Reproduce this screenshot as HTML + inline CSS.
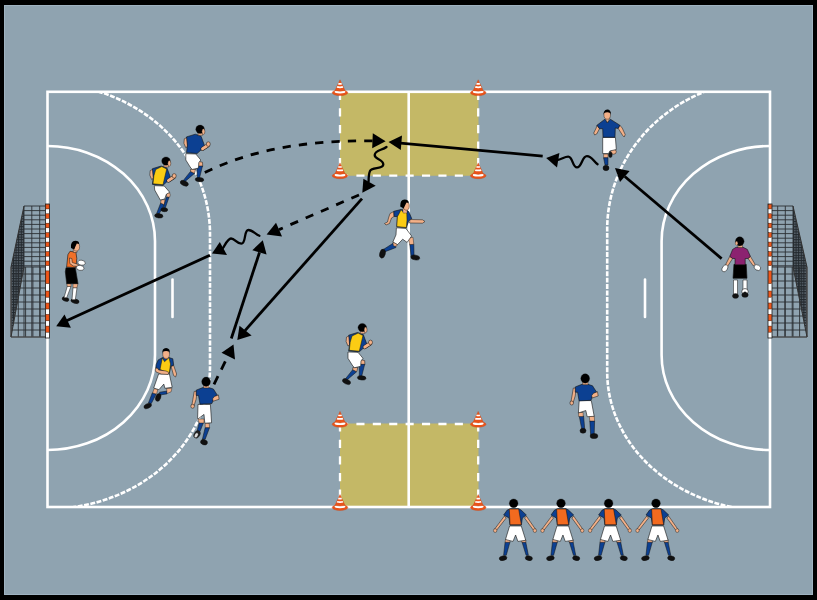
<!DOCTYPE html>
<html><head><meta charset="utf-8"><style>
html,body{margin:0;padding:0;background:#000;overflow:hidden}
svg{display:block}
</style></head><body>
<svg width="817" height="600" viewBox="0 0 817 600">
<rect x="0" y="0" width="817" height="600" fill="#000"/>
<rect x="4" y="5" width="809" height="590" fill="#8fa3b0"/>
<rect x="4.5" y="5.5" width="808" height="589" fill="none" stroke="#9fb3c1" stroke-width="1"/>
<path d="M340,91.8 H478.5 V167.7 Q478.5,175.7 470.5,175.7 H348 Q340,175.7 340,167.7 Z" fill="#c4b866"/>
<path d="M340,507 H478.5 V431.6 Q478.5,423.6 470.5,423.6 H348 Q340,423.6 340,431.6 Z" fill="#c4b866"/>
<g fill="none" stroke="#ffffff" stroke-width="2.6">
<rect x="47.5" y="91.8" width="722.5" height="415.2"/>
<line x1="408.7" y1="91.8" x2="408.7" y2="507"/>
<path d="M47.5,146 A107.5,95 0 0 1 155,241 V355 A107.5,95 0 0 1 47.5,450"/>
<path d="M770,146 A108.4,95 0 0 0 661.6,241 V355 A108.4,95 0 0 0 770,450"/>
<line x1="172.5" y1="279.5" x2="172.5" y2="317" stroke-linecap="round"/>
<line x1="645" y1="279.5" x2="645" y2="317" stroke-linecap="round"/>
</g>
<clipPath id="fc"><rect x="47.5" y="92.5" width="722.5" height="414"/></clipPath>
<g fill="none" stroke="#ffffff" stroke-width="2.6" stroke-dasharray="4.9 1.5" clip-path="url(#fc)">
<path d="M47.5,84 A162.5,150 0 0 1 210,234 V367 A162.5,142 0 0 1 47.5,509"/>
<path d="M770,79 A162.8,150 0 0 0 607.2,229 V372 A162.8,139 0 0 0 770,511"/>
</g>
<g fill="none" stroke="#ffffff" stroke-width="2.3">
<path d="M340,91.7 V175.7 M478.2,91.7 V175.7" stroke-dasharray="8.3 8.3"/>
<path d="M340,175.7 H478.2 M340,424 H478.2" stroke-dasharray="8.1 8.3"/>
<path d="M340,423.1 V507 M478.2,423.1 V507" stroke-dasharray="8.3 8.3"/>
</g>
<defs><pattern id="mesh" width="2.6" height="2.6" patternUnits="userSpaceOnUse"><path d="M0,0.5 H2.6 M0.5,0 V2.6" stroke="#22282d" stroke-width="1"/></pattern></defs>
<polygon points="24,206 11,267 11,337 24,267" fill="#59646d"/>
<polygon points="24,206 11,267 11,337 24,267" fill="url(#mesh)"/>
<g stroke="#2b2f33" stroke-width="0.9" fill="none">
<line x1="24" y1="206.0" x2="47.5" y2="206.0"/>
<line x1="24" y1="210.6" x2="47.5" y2="210.6"/>
<line x1="24" y1="215.2" x2="47.5" y2="215.2"/>
<line x1="24" y1="219.8" x2="47.5" y2="219.8"/>
<line x1="24" y1="224.4" x2="47.5" y2="224.4"/>
<line x1="24" y1="229.0" x2="47.5" y2="229.0"/>
<line x1="24" y1="233.6" x2="47.5" y2="233.6"/>
<line x1="24" y1="238.2" x2="47.5" y2="238.2"/>
<line x1="24" y1="242.8" x2="47.5" y2="242.8"/>
<line x1="24" y1="247.4" x2="47.5" y2="247.4"/>
<line x1="24" y1="252.0" x2="47.5" y2="252.0"/>
<line x1="24" y1="256.6" x2="47.5" y2="256.6"/>
<line x1="24" y1="261.2" x2="47.5" y2="261.2"/>
<line x1="24" y1="265.8" x2="47.5" y2="265.8"/>
<line x1="24.0" y1="206" x2="24.0" y2="337"/>
<line x1="31.8" y1="206" x2="31.8" y2="337"/>
<line x1="39.7" y1="206" x2="39.7" y2="337"/>
<line x1="47.5" y1="206" x2="47.5" y2="337"/>
<line x1="11" y1="267.0" x2="47.5" y2="267.0"/>
<line x1="11" y1="274.0" x2="47.5" y2="274.0"/>
<line x1="11" y1="281.0" x2="47.5" y2="281.0"/>
<line x1="11" y1="288.0" x2="47.5" y2="288.0"/>
<line x1="11" y1="295.0" x2="47.5" y2="295.0"/>
<line x1="11" y1="302.0" x2="47.5" y2="302.0"/>
<line x1="11" y1="309.0" x2="47.5" y2="309.0"/>
<line x1="11" y1="316.0" x2="47.5" y2="316.0"/>
<line x1="11" y1="323.0" x2="47.5" y2="323.0"/>
<line x1="11" y1="330.0" x2="47.5" y2="330.0"/>
<line x1="11" y1="337.0" x2="47.5" y2="337.0"/>
<line x1="11.0" y1="267" x2="11.0" y2="337"/>
<line x1="18.3" y1="267" x2="18.3" y2="337"/>
<line x1="25.6" y1="267" x2="25.6" y2="337"/>
<line x1="32.9" y1="267" x2="32.9" y2="337"/>
<line x1="40.2" y1="267" x2="40.2" y2="337"/>
<line x1="11" y1="267" x2="11" y2="337" stroke="#555" stroke-width="1.2"/>
<line x1="11" y1="337" x2="47.5" y2="337" stroke="#555" stroke-width="1.2"/>
<line x1="24" y1="206" x2="11" y2="267" stroke="#333" stroke-width="1"/>
<line x1="24" y1="267" x2="11" y2="337" stroke="#333" stroke-width="1"/>
</g>
<rect x="45.5" y="204" width="4" height="134" fill="#fff" stroke="#1a1a1a" stroke-width="0.8"/>
<rect x="45.8" y="204.3" width="3.4" height="4.6" fill="#f0561a" stroke="#3a1a0a" stroke-width="0.5"/>
<rect x="45.8" y="213.8" width="3.4" height="4.6" fill="#f0561a" stroke="#3a1a0a" stroke-width="0.5"/>
<rect x="45.8" y="223.2" width="3.4" height="4.6" fill="#f0561a" stroke="#3a1a0a" stroke-width="0.5"/>
<rect x="45.8" y="232.7" width="3.4" height="4.6" fill="#f0561a" stroke="#3a1a0a" stroke-width="0.5"/>
<rect x="45.8" y="242.1" width="3.4" height="4.6" fill="#f0561a" stroke="#3a1a0a" stroke-width="0.5"/>
<rect x="45.8" y="251.6" width="3.4" height="4.6" fill="#f0561a" stroke="#3a1a0a" stroke-width="0.5"/>
<rect x="45.8" y="261.0" width="3.4" height="4.6" fill="#f0561a" stroke="#3a1a0a" stroke-width="0.5"/>
<rect x="45.8" y="270.9" width="3.4" height="12.7" fill="#f0561a" stroke="#3a1a0a" stroke-width="0.5"/>
<rect x="45.8" y="291.0" width="3.4" height="6.2" fill="#f0561a" stroke="#3a1a0a" stroke-width="0.5"/>
<rect x="45.8" y="303.0" width="3.4" height="6.0" fill="#f0561a" stroke="#3a1a0a" stroke-width="0.5"/>
<rect x="45.8" y="314.4" width="3.4" height="6.4" fill="#f0561a" stroke="#3a1a0a" stroke-width="0.5"/>
<rect x="45.8" y="326.1" width="3.4" height="6.1" fill="#f0561a" stroke="#3a1a0a" stroke-width="0.5"/>
<polygon points="793,206 807,267 807,337 793,267" fill="#59646d"/>
<polygon points="793,206 807,267 807,337 793,267" fill="url(#mesh)"/>
<g stroke="#2b2f33" stroke-width="0.9" fill="none">
<line x1="793" y1="206.0" x2="770" y2="206.0"/>
<line x1="793" y1="210.6" x2="770" y2="210.6"/>
<line x1="793" y1="215.2" x2="770" y2="215.2"/>
<line x1="793" y1="219.8" x2="770" y2="219.8"/>
<line x1="793" y1="224.4" x2="770" y2="224.4"/>
<line x1="793" y1="229.0" x2="770" y2="229.0"/>
<line x1="793" y1="233.6" x2="770" y2="233.6"/>
<line x1="793" y1="238.2" x2="770" y2="238.2"/>
<line x1="793" y1="242.8" x2="770" y2="242.8"/>
<line x1="793" y1="247.4" x2="770" y2="247.4"/>
<line x1="793" y1="252.0" x2="770" y2="252.0"/>
<line x1="793" y1="256.6" x2="770" y2="256.6"/>
<line x1="793" y1="261.2" x2="770" y2="261.2"/>
<line x1="793" y1="265.8" x2="770" y2="265.8"/>
<line x1="793.0" y1="206" x2="793.0" y2="337"/>
<line x1="785.3" y1="206" x2="785.3" y2="337"/>
<line x1="777.7" y1="206" x2="777.7" y2="337"/>
<line x1="770.0" y1="206" x2="770.0" y2="337"/>
<line x1="807" y1="267.0" x2="770" y2="267.0"/>
<line x1="807" y1="274.0" x2="770" y2="274.0"/>
<line x1="807" y1="281.0" x2="770" y2="281.0"/>
<line x1="807" y1="288.0" x2="770" y2="288.0"/>
<line x1="807" y1="295.0" x2="770" y2="295.0"/>
<line x1="807" y1="302.0" x2="770" y2="302.0"/>
<line x1="807" y1="309.0" x2="770" y2="309.0"/>
<line x1="807" y1="316.0" x2="770" y2="316.0"/>
<line x1="807" y1="323.0" x2="770" y2="323.0"/>
<line x1="807" y1="330.0" x2="770" y2="330.0"/>
<line x1="807" y1="337.0" x2="770" y2="337.0"/>
<line x1="807.0" y1="267" x2="807.0" y2="337"/>
<line x1="799.6" y1="267" x2="799.6" y2="337"/>
<line x1="792.2" y1="267" x2="792.2" y2="337"/>
<line x1="784.8" y1="267" x2="784.8" y2="337"/>
<line x1="777.4" y1="267" x2="777.4" y2="337"/>
<line x1="807" y1="267" x2="807" y2="337" stroke="#555" stroke-width="1.2"/>
<line x1="807" y1="337" x2="770" y2="337" stroke="#555" stroke-width="1.2"/>
<line x1="793" y1="206" x2="807" y2="267" stroke="#333" stroke-width="1"/>
<line x1="793" y1="267" x2="807" y2="337" stroke="#333" stroke-width="1"/>
</g>
<rect x="768" y="204" width="4" height="134" fill="#fff" stroke="#1a1a1a" stroke-width="0.8"/>
<rect x="768.3" y="204.3" width="3.4" height="4.6" fill="#f0561a" stroke="#3a1a0a" stroke-width="0.5"/>
<rect x="768.3" y="213.8" width="3.4" height="4.6" fill="#f0561a" stroke="#3a1a0a" stroke-width="0.5"/>
<rect x="768.3" y="223.2" width="3.4" height="4.6" fill="#f0561a" stroke="#3a1a0a" stroke-width="0.5"/>
<rect x="768.3" y="232.7" width="3.4" height="4.6" fill="#f0561a" stroke="#3a1a0a" stroke-width="0.5"/>
<rect x="768.3" y="242.1" width="3.4" height="4.6" fill="#f0561a" stroke="#3a1a0a" stroke-width="0.5"/>
<rect x="768.3" y="251.6" width="3.4" height="4.6" fill="#f0561a" stroke="#3a1a0a" stroke-width="0.5"/>
<rect x="768.3" y="261.0" width="3.4" height="4.6" fill="#f0561a" stroke="#3a1a0a" stroke-width="0.5"/>
<rect x="768.3" y="270.9" width="3.4" height="12.7" fill="#f0561a" stroke="#3a1a0a" stroke-width="0.5"/>
<rect x="768.3" y="291.0" width="3.4" height="6.2" fill="#f0561a" stroke="#3a1a0a" stroke-width="0.5"/>
<rect x="768.3" y="303.0" width="3.4" height="6.0" fill="#f0561a" stroke="#3a1a0a" stroke-width="0.5"/>
<rect x="768.3" y="314.4" width="3.4" height="6.4" fill="#f0561a" stroke="#3a1a0a" stroke-width="0.5"/>
<rect x="768.3" y="326.1" width="3.4" height="6.1" fill="#f0561a" stroke="#3a1a0a" stroke-width="0.5"/>
<g transform="translate(340,92.7)">
<ellipse cx="0" cy="0" rx="7.8" ry="2.9" fill="#e9531a" stroke="#c8420f" stroke-width="0.4"/>
<path d="M-5.6,-1.2 Q0,1.8 5.6,-1.2 Q0,0.6 -5.6,-1.2 Z" fill="#fff"/>
<ellipse cx="0" cy="-0.9" rx="5.4" ry="1.6" fill="#fff"/>
<path d="M0,-12.9 L5,-2.2 Q0,-0.6 -5,-2.2 Z" fill="#e9531a" stroke="#c8420f" stroke-width="0.35"/>
<path d="M-1.4,-9.9 Q0,-9.4 1.4,-9.9 L2.0,-8.3 Q0,-7.7 -2.0,-8.3 Z" fill="#fff"/>
<path d="M-2.6,-6.6 Q0,-5.9 2.6,-6.6 L3.3,-4.9 Q0,-4.1 -3.3,-4.9 Z" fill="#fff"/>
</g>
<g transform="translate(478.2,92.7)">
<ellipse cx="0" cy="0" rx="7.8" ry="2.9" fill="#e9531a" stroke="#c8420f" stroke-width="0.4"/>
<path d="M-5.6,-1.2 Q0,1.8 5.6,-1.2 Q0,0.6 -5.6,-1.2 Z" fill="#fff"/>
<ellipse cx="0" cy="-0.9" rx="5.4" ry="1.6" fill="#fff"/>
<path d="M0,-12.9 L5,-2.2 Q0,-0.6 -5,-2.2 Z" fill="#e9531a" stroke="#c8420f" stroke-width="0.35"/>
<path d="M-1.4,-9.9 Q0,-9.4 1.4,-9.9 L2.0,-8.3 Q0,-7.7 -2.0,-8.3 Z" fill="#fff"/>
<path d="M-2.6,-6.6 Q0,-5.9 2.6,-6.6 L3.3,-4.9 Q0,-4.1 -3.3,-4.9 Z" fill="#fff"/>
</g>
<g transform="translate(340,175.8)">
<ellipse cx="0" cy="0" rx="7.8" ry="2.9" fill="#e9531a" stroke="#c8420f" stroke-width="0.4"/>
<path d="M-5.6,-1.2 Q0,1.8 5.6,-1.2 Q0,0.6 -5.6,-1.2 Z" fill="#fff"/>
<ellipse cx="0" cy="-0.9" rx="5.4" ry="1.6" fill="#fff"/>
<path d="M0,-12.9 L5,-2.2 Q0,-0.6 -5,-2.2 Z" fill="#e9531a" stroke="#c8420f" stroke-width="0.35"/>
<path d="M-1.4,-9.9 Q0,-9.4 1.4,-9.9 L2.0,-8.3 Q0,-7.7 -2.0,-8.3 Z" fill="#fff"/>
<path d="M-2.6,-6.6 Q0,-5.9 2.6,-6.6 L3.3,-4.9 Q0,-4.1 -3.3,-4.9 Z" fill="#fff"/>
</g>
<g transform="translate(478.2,175.8)">
<ellipse cx="0" cy="0" rx="7.8" ry="2.9" fill="#e9531a" stroke="#c8420f" stroke-width="0.4"/>
<path d="M-5.6,-1.2 Q0,1.8 5.6,-1.2 Q0,0.6 -5.6,-1.2 Z" fill="#fff"/>
<ellipse cx="0" cy="-0.9" rx="5.4" ry="1.6" fill="#fff"/>
<path d="M0,-12.9 L5,-2.2 Q0,-0.6 -5,-2.2 Z" fill="#e9531a" stroke="#c8420f" stroke-width="0.35"/>
<path d="M-1.4,-9.9 Q0,-9.4 1.4,-9.9 L2.0,-8.3 Q0,-7.7 -2.0,-8.3 Z" fill="#fff"/>
<path d="M-2.6,-6.6 Q0,-5.9 2.6,-6.6 L3.3,-4.9 Q0,-4.1 -3.3,-4.9 Z" fill="#fff"/>
</g>
<g transform="translate(340,424.3)">
<ellipse cx="0" cy="0" rx="7.8" ry="2.9" fill="#e9531a" stroke="#c8420f" stroke-width="0.4"/>
<path d="M-5.6,-1.2 Q0,1.8 5.6,-1.2 Q0,0.6 -5.6,-1.2 Z" fill="#fff"/>
<ellipse cx="0" cy="-0.9" rx="5.4" ry="1.6" fill="#fff"/>
<path d="M0,-12.9 L5,-2.2 Q0,-0.6 -5,-2.2 Z" fill="#e9531a" stroke="#c8420f" stroke-width="0.35"/>
<path d="M-1.4,-9.9 Q0,-9.4 1.4,-9.9 L2.0,-8.3 Q0,-7.7 -2.0,-8.3 Z" fill="#fff"/>
<path d="M-2.6,-6.6 Q0,-5.9 2.6,-6.6 L3.3,-4.9 Q0,-4.1 -3.3,-4.9 Z" fill="#fff"/>
</g>
<g transform="translate(478.2,424.3)">
<ellipse cx="0" cy="0" rx="7.8" ry="2.9" fill="#e9531a" stroke="#c8420f" stroke-width="0.4"/>
<path d="M-5.6,-1.2 Q0,1.8 5.6,-1.2 Q0,0.6 -5.6,-1.2 Z" fill="#fff"/>
<ellipse cx="0" cy="-0.9" rx="5.4" ry="1.6" fill="#fff"/>
<path d="M0,-12.9 L5,-2.2 Q0,-0.6 -5,-2.2 Z" fill="#e9531a" stroke="#c8420f" stroke-width="0.35"/>
<path d="M-1.4,-9.9 Q0,-9.4 1.4,-9.9 L2.0,-8.3 Q0,-7.7 -2.0,-8.3 Z" fill="#fff"/>
<path d="M-2.6,-6.6 Q0,-5.9 2.6,-6.6 L3.3,-4.9 Q0,-4.1 -3.3,-4.9 Z" fill="#fff"/>
</g>
<g transform="translate(340,507.5)">
<ellipse cx="0" cy="0" rx="7.8" ry="2.9" fill="#e9531a" stroke="#c8420f" stroke-width="0.4"/>
<path d="M-5.6,-1.2 Q0,1.8 5.6,-1.2 Q0,0.6 -5.6,-1.2 Z" fill="#fff"/>
<ellipse cx="0" cy="-0.9" rx="5.4" ry="1.6" fill="#fff"/>
<path d="M0,-12.9 L5,-2.2 Q0,-0.6 -5,-2.2 Z" fill="#e9531a" stroke="#c8420f" stroke-width="0.35"/>
<path d="M-1.4,-9.9 Q0,-9.4 1.4,-9.9 L2.0,-8.3 Q0,-7.7 -2.0,-8.3 Z" fill="#fff"/>
<path d="M-2.6,-6.6 Q0,-5.9 2.6,-6.6 L3.3,-4.9 Q0,-4.1 -3.3,-4.9 Z" fill="#fff"/>
</g>
<g transform="translate(478.2,507.5)">
<ellipse cx="0" cy="0" rx="7.8" ry="2.9" fill="#e9531a" stroke="#c8420f" stroke-width="0.4"/>
<path d="M-5.6,-1.2 Q0,1.8 5.6,-1.2 Q0,0.6 -5.6,-1.2 Z" fill="#fff"/>
<ellipse cx="0" cy="-0.9" rx="5.4" ry="1.6" fill="#fff"/>
<path d="M0,-12.9 L5,-2.2 Q0,-0.6 -5,-2.2 Z" fill="#e9531a" stroke="#c8420f" stroke-width="0.35"/>
<path d="M-1.4,-9.9 Q0,-9.4 1.4,-9.9 L2.0,-8.3 Q0,-7.7 -2.0,-8.3 Z" fill="#fff"/>
<path d="M-2.6,-6.6 Q0,-5.9 2.6,-6.6 L3.3,-4.9 Q0,-4.1 -3.3,-4.9 Z" fill="#fff"/>
</g>
<g stroke="#000" fill="none" stroke-width="2.8">
<path d="M204.8,172.5 C255,148 310,140.4 373,140.8" stroke-dasharray="8.3 8.1"/>
<line x1="542.7" y1="156.1" x2="395" y2="142.7"/>
<line x1="359" y1="195" x2="279" y2="229.6" stroke-dasharray="8.3 8.3"/>
<line x1="362" y1="198.6" x2="245" y2="330.6"/>
<line x1="231.3" y1="338.5" x2="259.5" y2="252.4"/>
<line x1="209.9" y1="255.2" x2="66" y2="321"/>
<line x1="214" y1="384.3" x2="228" y2="356" stroke-dasharray="9 7.5"/>
<line x1="721.6" y1="258.6" x2="624.8" y2="176.5"/>
</g>
<g stroke="#000" fill="none" stroke-width="2.3" stroke-linecap="round">
<path d="M386.5,147 C382,150.5 375,150 374.7,155 C374.5,159.5 383.3,159 383.3,164.5 C383.3,169.5 372,167 370,171 C368.8,173.5 368.6,176 368.6,181.5"/>
<path d="M259.4,235.8 C255,234 252.5,230 248.4,230 C243.5,230 246.5,243.7 241.3,243.7 C236.5,243.7 235,238.5 231,238.5 C228,238.5 225.5,244 223,248"/>
<path d="M597.6,164.2 C593.5,161.5 592,156.1 586.9,156.1 C581.9,156.1 582,167.4 577,167.4 C572.3,167.4 573,156.6 568.2,156.6 C564.5,156.6 561.5,159.3 557,160"/>
</g>
<polygon points="385.6,141.3 372.8,133.2 372.2,148.3" fill="#000"/>
<polygon points="388.5,142 402,135.5 400.8,150" fill="#000"/>
<polygon points="362.3,192.7 363.4,178.7 375.7,185.7" fill="#000"/>
<polygon points="266.6,234.6 276,222.7 282,236.5" fill="#000"/>
<polygon points="237.3,340 239.5,325.8 251.6,335.5" fill="#000"/>
<polygon points="212,253.5 219.8,242 227,254.9" fill="#000"/>
<polygon points="262.8,240.3 252.3,250.2 266.6,254.6" fill="#000"/>
<polygon points="56.2,326.3 64.5,314.5 70.9,327.7" fill="#000"/>
<polygon points="233.5,344.5 221.5,352.8 235,359.5" fill="#000"/>
<polygon points="546.2,158 559.4,153.1 557,167.4" fill="#000"/>
<polygon points="615,168 629.6,171 620,182" fill="#000"/>
<g transform="translate(200.1,129.3)"><polygon points="-9.60,42.10 -5.60,44.10 -15.00,52.10 -17.00,51.40" fill="#0c4092" stroke="#111" stroke-width="0.5" stroke-linejoin="round"/><polygon points="-9.50,40.00 -4.50,40.00 -5.60,44.10 -9.60,42.10" fill="#f2b088" stroke="#111" stroke-width="0.5" stroke-linejoin="round"/><ellipse cx="-15.8" cy="54" rx="4.3" ry="2.4" fill="#111" stroke="#111" stroke-width="0.5" transform="rotate(25 -15.8 54)"/><polygon points="-2.00,32.00 2.40,33.00 2.60,37.00 -2.50,37.50" fill="#f2b088" stroke="#111" stroke-width="0.5" stroke-linejoin="round"/><polygon points="-3.00,36.70 2.40,36.70 -0.60,48.70 -3.00,48.70" fill="#0c4092" stroke="#111" stroke-width="0.5" stroke-linejoin="round"/><ellipse cx="-0.6" cy="50.3" rx="4.3" ry="2.1" fill="#111" stroke="#111" stroke-width="0.5" transform="rotate(5 -0.6 50.3)"/><polygon points="-14.30,24.40 -4.30,24.70 0.70,30.70 -1.30,33.40 -1.60,38.70 -7.60,40.10 -9.30,38.70 -14.30,30.70" fill="#fff" stroke="#111" stroke-width="0.6" stroke-linejoin="round"/><polygon points="-15.80,9.50 -12.80,8.00 -12.50,17.00 -14.30,18.50 -16.20,14.00" fill="#f2b088" stroke="#111" stroke-width="0.5" stroke-linejoin="round"/><polygon points="-13.60,7.60 -4.80,4.90 1.00,7.00 5.10,18.10 2.20,19.50 -3.00,24.20 -13.60,23.30 -12.70,16.30" fill="#0c4092" stroke="#111" stroke-width="0.6" stroke-linejoin="round"/><line x1="2.5" y1="19.5" x2="7.8" y2="16" stroke="#111" stroke-width="4.0" stroke-linecap="round"/><line x1="2.5" y1="19.5" x2="7.8" y2="16" stroke="#f2b088" stroke-width="3.0" stroke-linecap="round"/><ellipse cx="8.2" cy="14.8" rx="2.0" ry="2.3" fill="#f2b088" stroke="#111" stroke-width="0.5"/><polygon points="-2.00,3.00 2.50,3.00 2.50,6.00 -2.00,6.00" fill="#f2b088" stroke="#111" stroke-width="0.4" stroke-linejoin="round"/><ellipse cx="0" cy="0" rx="4.3" ry="4.2" fill="#000" stroke="#111" stroke-width="0.3"/><ellipse cx="3.3" cy="2.3" rx="1.5" ry="2.8" fill="#f2b088" stroke="#111" stroke-width="0.4"/></g>
<g transform="translate(166,161.1)"><polygon points="-5.30,41.90 -1.70,43.60 -7.00,52.90 -9.30,52.20" fill="#0c4092" stroke="#111" stroke-width="0.5" stroke-linejoin="round"/><polygon points="-5.00,38.60 -1.00,38.60 -1.70,43.60 -5.30,41.90" fill="#f2b088" stroke="#111" stroke-width="0.4" stroke-linejoin="round"/><ellipse cx="-7.2" cy="54.7" rx="4.2" ry="2.2" fill="#111" stroke="#111" stroke-width="0.5" transform="rotate(8 -7.2 54.7)"/><ellipse cx="2.3" cy="33.9" rx="2.0" ry="2.4" fill="#f2b088" stroke="#111" stroke-width="0.4"/><polygon points="0.30,36.20 3.00,36.20 -1.00,47.60 -3.00,47.60" fill="#0c4092" stroke="#111" stroke-width="0.5" stroke-linejoin="round"/><ellipse cx="-1.7" cy="48.6" rx="3.5" ry="2.0" fill="#111" stroke="#111" stroke-width="0.5" transform="rotate(5 -1.7 48.6)"/><polygon points="-11.70,24.60 -1.70,24.90 3.70,31.20 0.30,33.20 -1.30,37.90 -5.70,38.90 -11.30,28.90" fill="#fff" stroke="#111" stroke-width="0.6" stroke-linejoin="round"/><polygon points="-15.80,9.50 -12.80,8.00 -12.50,17.00 -14.30,18.50 -16.20,14.00" fill="#f2b088" stroke="#111" stroke-width="0.5" stroke-linejoin="round"/><polygon points="-13.60,7.60 -4.80,4.90 1.00,7.00 5.10,18.10 2.20,19.50 -3.00,24.20 -13.60,23.30 -12.70,16.30" fill="#0c4092" stroke="#111" stroke-width="0.6" stroke-linejoin="round"/><polygon points="-10.30,8.40 -4.20,5.50 0.70,7.90 -3.00,23.60 -13.00,22.70 -12.10,14.60" fill="#fbcc14" stroke="#111" stroke-width="0.5" stroke-linejoin="round"/><line x1="2.5" y1="19.5" x2="7.8" y2="16" stroke="#111" stroke-width="4.0" stroke-linecap="round"/><line x1="2.5" y1="19.5" x2="7.8" y2="16" stroke="#f2b088" stroke-width="3.0" stroke-linecap="round"/><ellipse cx="8.2" cy="14.8" rx="2.0" ry="2.3" fill="#f2b088" stroke="#111" stroke-width="0.5"/><polygon points="-2.00,3.00 2.50,3.00 2.50,6.00 -2.00,6.00" fill="#f2b088" stroke="#111" stroke-width="0.4" stroke-linejoin="round"/><ellipse cx="0" cy="0" rx="4.3" ry="4.2" fill="#000" stroke="#111" stroke-width="0.3"/><ellipse cx="3.3" cy="2.3" rx="1.5" ry="2.8" fill="#f2b088" stroke="#111" stroke-width="0.4"/></g>
<g transform="translate(362.3,327.6)"><polygon points="-9.60,42.10 -5.60,44.10 -15.00,52.10 -17.00,51.40" fill="#0c4092" stroke="#111" stroke-width="0.5" stroke-linejoin="round"/><polygon points="-9.50,40.00 -4.50,40.00 -5.60,44.10 -9.60,42.10" fill="#f2b088" stroke="#111" stroke-width="0.5" stroke-linejoin="round"/><ellipse cx="-15.8" cy="54" rx="4.3" ry="2.4" fill="#111" stroke="#111" stroke-width="0.5" transform="rotate(25 -15.8 54)"/><polygon points="-2.00,32.00 2.40,33.00 2.60,37.00 -2.50,37.50" fill="#f2b088" stroke="#111" stroke-width="0.5" stroke-linejoin="round"/><polygon points="-3.00,36.70 2.40,36.70 -0.60,48.70 -3.00,48.70" fill="#0c4092" stroke="#111" stroke-width="0.5" stroke-linejoin="round"/><ellipse cx="-0.6" cy="50.3" rx="4.3" ry="2.1" fill="#111" stroke="#111" stroke-width="0.5" transform="rotate(5 -0.6 50.3)"/><polygon points="-14.30,24.40 -4.30,24.70 0.70,30.70 -1.30,33.40 -1.60,38.70 -7.60,40.10 -9.30,38.70 -14.30,30.70" fill="#fff" stroke="#111" stroke-width="0.6" stroke-linejoin="round"/><polygon points="-15.80,9.50 -12.80,8.00 -12.50,17.00 -14.30,18.50 -16.20,14.00" fill="#f2b088" stroke="#111" stroke-width="0.5" stroke-linejoin="round"/><polygon points="-13.60,7.60 -4.80,4.90 1.00,7.00 5.10,18.10 2.20,19.50 -3.00,24.20 -13.60,23.30 -12.70,16.30" fill="#0c4092" stroke="#111" stroke-width="0.6" stroke-linejoin="round"/><polygon points="-10.30,8.40 -4.20,5.50 0.70,7.90 -3.00,23.60 -13.00,22.70 -12.10,14.60" fill="#fbcc14" stroke="#111" stroke-width="0.5" stroke-linejoin="round"/><line x1="2.5" y1="19.5" x2="7.8" y2="16" stroke="#111" stroke-width="4.0" stroke-linecap="round"/><line x1="2.5" y1="19.5" x2="7.8" y2="16" stroke="#f2b088" stroke-width="3.0" stroke-linecap="round"/><ellipse cx="8.2" cy="14.8" rx="2.0" ry="2.3" fill="#f2b088" stroke="#111" stroke-width="0.5"/><polygon points="-2.00,3.00 2.50,3.00 2.50,6.00 -2.00,6.00" fill="#f2b088" stroke="#111" stroke-width="0.4" stroke-linejoin="round"/><ellipse cx="0" cy="0" rx="4.3" ry="4.2" fill="#000" stroke="#111" stroke-width="0.3"/><ellipse cx="3.3" cy="2.3" rx="1.5" ry="2.8" fill="#f2b088" stroke="#111" stroke-width="0.4"/></g>
<g transform="translate(585.2,378.5)"><polygon points="-6.00,37.50 -1.60,37.50 -0.50,50.30 -3.50,50.30" fill="#0c4092" stroke="#111" stroke-width="0.5" stroke-linejoin="round"/><ellipse cx="-2.2" cy="52.2" rx="3.0" ry="2.5" fill="#111" stroke="#111" stroke-width="0.5"/><polygon points="4.60,42.50 9.40,42.50 9.00,56.20 5.40,56.20" fill="#0c4092" stroke="#111" stroke-width="0.5" stroke-linejoin="round"/><ellipse cx="8.8" cy="57.5" rx="3.9" ry="2.6" fill="#111" stroke="#111" stroke-width="0.5"/><polygon points="-6.80,34.00 -2.00,34.00 -2.00,38.00 -6.50,38.00" fill="#f2b088" stroke="#111" stroke-width="0.4" stroke-linejoin="round"/><polygon points="4.00,37.50 9.00,37.50 9.40,42.50 4.60,42.50" fill="#f2b088" stroke="#111" stroke-width="0.4" stroke-linejoin="round"/><polygon points="-6.00,22.10 6.10,22.10 9.00,37.80 2.00,38.20 0.60,32.00 -6.80,34.50" fill="#fff" stroke="#111" stroke-width="0.6" stroke-linejoin="round"/><polygon points="-11.90,9.60 -9.00,9.60 -10.00,17.50 -12.20,24.50 -14.50,24.50 -13.20,17.50" fill="#f2b088" stroke="#111" stroke-width="0.5" stroke-linejoin="round"/><ellipse cx="-13.5" cy="24.5" rx="1.8" ry="2.0" fill="#f2b088" stroke="#111" stroke-width="0.5"/><polygon points="-9.90,8.40 -3.20,5.80 2.60,5.80 7.30,7.25 11.40,13.70 8.50,14.80 5.80,21.80 -6.10,22.40 -7.60,13.70 -9.90,13.70" fill="#0c4092" stroke="#111" stroke-width="0.6" stroke-linejoin="round"/><polygon points="8.30,14.80 12.30,13.20 13.00,17.50 7.00,19.50 6.50,17.00" fill="#f2b088" stroke="#111" stroke-width="0.5" stroke-linejoin="round"/><polygon points="-2.50,3.50 2.80,3.50 2.80,6.20 -2.50,6.20" fill="#f2b088" stroke="#111" stroke-width="0.4" stroke-linejoin="round"/><ellipse cx="0" cy="0" rx="4.4" ry="4.65" fill="#000" stroke="#111" stroke-width="0.3"/></g>
<g transform="translate(206.1,381.75)"><polygon points="-6.50,39.45 -2.10,39.45 -6.10,49.85 -8.90,48.65" fill="#0c4092" stroke="#111" stroke-width="0.5" stroke-linejoin="round"/><ellipse cx="-9.1" cy="52.65" rx="2.8" ry="4.0" fill="#222" stroke="#111" stroke-width="0.5" transform="rotate(30 -9.1 52.65)"/><ellipse cx="-9.8" cy="53.5" rx="1.6" ry="2.6" fill="#ddd" stroke="#111" stroke-width="0.3" transform="rotate(30 -9.8 53.5)"/><polygon points="-0.90,45.85 3.50,45.85 -0.90,57.45 -3.70,57.45" fill="#0c4092" stroke="#111" stroke-width="0.5" stroke-linejoin="round"/><ellipse cx="-2.1" cy="60.45" rx="3.5" ry="2.6" fill="#111" stroke="#111" stroke-width="0.5" transform="rotate(20 -2.1 60.45)"/><polygon points="-8.10,37.25 -2.10,37.25 -2.10,41.25 -7.00,41.25" fill="#f2b088" stroke="#111" stroke-width="0.4" stroke-linejoin="round"/><polygon points="-0.90,41.45 3.10,41.45 3.50,45.85 -0.90,45.85" fill="#f2b088" stroke="#111" stroke-width="0.4" stroke-linejoin="round"/><polygon points="-8.10,22.65 4.30,22.65 5.50,41.05 -1.30,41.45 -2.10,32.65 -8.50,37.45" fill="#fff" stroke="#111" stroke-width="0.6" stroke-linejoin="round"/><polygon points="-11.90,9.60 -9.00,9.60 -10.00,17.50 -12.20,24.50 -14.50,24.50 -13.20,17.50" fill="#f2b088" stroke="#111" stroke-width="0.5" stroke-linejoin="round"/><ellipse cx="-13.5" cy="24.5" rx="1.8" ry="2.0" fill="#f2b088" stroke="#111" stroke-width="0.5"/><polygon points="-9.90,8.40 -3.20,5.80 2.60,5.80 7.30,7.25 11.40,13.70 8.50,14.80 5.80,21.80 -6.10,22.40 -7.60,13.70 -9.90,13.70" fill="#0c4092" stroke="#111" stroke-width="0.6" stroke-linejoin="round"/><polygon points="8.30,14.80 12.30,13.20 13.00,17.50 7.00,19.50 6.50,17.00" fill="#f2b088" stroke="#111" stroke-width="0.5" stroke-linejoin="round"/><polygon points="-2.50,3.50 2.80,3.50 2.80,6.20 -2.50,6.20" fill="#f2b088" stroke="#111" stroke-width="0.4" stroke-linejoin="round"/><ellipse cx="0" cy="0" rx="4.4" ry="4.65" fill="#000" stroke="#111" stroke-width="0.3"/></g>
<g transform="translate(607.2,114)"><ellipse cx="6.3" cy="37.7" rx="2.8" ry="2.5" fill="#f2b088" stroke="#111" stroke-width="0.5"/><ellipse cx="3.2" cy="40.75" rx="1.8" ry="2.8" fill="#111" stroke="#111" stroke-width="0.5"/><polygon points="-3.60,40.10 0.80,40.10 0.80,43.80 -3.60,43.80" fill="#f2b088" stroke="#111" stroke-width="0.4" stroke-linejoin="round"/><polygon points="-3.60,43.80 0.80,43.80 0.80,51.00 -2.20,51.00" fill="#0c4092" stroke="#111" stroke-width="0.5" stroke-linejoin="round"/><ellipse cx="-1.2" cy="54" rx="3.0" ry="2.7" fill="#111" stroke="#111" stroke-width="0.5"/><polygon points="-4.50,23.50 8.20,23.50 9.10,35.50 2.60,37.00 1.40,39.50 -4.50,39.50" fill="#fff" stroke="#111" stroke-width="0.6" stroke-linejoin="round"/><polygon points="-10.20,11.20 -7.70,14.70 -10.50,20.00 -12.50,21.00 -13.50,19.00 -11.00,14.00" fill="#f2b088" stroke="#111" stroke-width="0.5" stroke-linejoin="round"/><polygon points="12.60,11.20 11.00,14.40 15.50,21.50 17.00,23.00 18.00,20.50 15.00,14.00" fill="#f2b088" stroke="#111" stroke-width="0.5" stroke-linejoin="round"/><polygon points="-10.20,11.20 -2.30,5.20 0.20,9.00 3.10,5.20 12.60,11.20 11.00,14.40 8.10,14.00 7.80,23.20 -4.20,23.20 -4.50,14.70 -7.70,14.70" fill="#0c4092" stroke="#111" stroke-width="0.6" stroke-linejoin="round"/><polygon points="-2.00,4.00 2.50,4.00 0.20,8.50" fill="#f2b088" stroke="#111" stroke-width="0.3" stroke-linejoin="round"/><ellipse cx="0" cy="0.8" rx="3.3" ry="4.4" fill="#f2b088" stroke="#111" stroke-width="0.4"/><path d="M-3.6,1 Q-4,-4 0,-4.6 Q4,-4.6 3.8,1 L3,-1 Q0,-2.5 -3,-1 Z" fill="#000"/></g>
<g transform="translate(513.65,503.3)"><polygon points="-8.55,38.70 -3.65,38.70 -7.40,52.00 -10.05,52.00" fill="#0c4092" stroke="#111" stroke-width="0.5" stroke-linejoin="round"/><polygon points="8.35,38.70 12.10,38.70 14.75,52.00 12.45,52.00" fill="#0c4092" stroke="#111" stroke-width="0.5" stroke-linejoin="round"/><ellipse cx="-10.6" cy="54.9" rx="3.9" ry="2.3" fill="#111" stroke="#111" stroke-width="0.5" transform="rotate(-12 -10.6 54.9)"/><ellipse cx="15.2" cy="54.9" rx="3.6" ry="2.3" fill="#111" stroke="#111" stroke-width="0.5" transform="rotate(12 15.2 54.9)"/><polygon points="-8.15,36.20 -3.65,36.20 -3.65,38.90 -8.55,38.90" fill="#f2b088" stroke="#111" stroke-width="0.4" stroke-linejoin="round"/><polygon points="7.35,36.70 12.35,36.70 12.10,39.00 8.35,39.00" fill="#f2b088" stroke="#111" stroke-width="0.4" stroke-linejoin="round"/><polygon points="-4.05,22.70 7.60,22.70 12.10,36.95 4.25,38.10 1.95,31.70 -0.65,38.10 -8.15,36.20" fill="#fff" stroke="#111" stroke-width="0.6" stroke-linejoin="round"/><polygon points="-9.30,12.80 -7.50,14.80 -17.60,27.60 -19.20,26.00" fill="#f2b088" stroke="#111" stroke-width="0.5" stroke-linejoin="round"/><polygon points="12.70,12.80 10.90,14.80 20.30,27.60 21.90,26.00" fill="#f2b088" stroke="#111" stroke-width="0.5" stroke-linejoin="round"/><ellipse cx="-18.5" cy="27.3" rx="1.7" ry="1.9" fill="#f2b088" stroke="#111" stroke-width="0.4"/><ellipse cx="21.2" cy="27.3" rx="1.7" ry="1.9" fill="#f2b088" stroke="#111" stroke-width="0.4"/><polygon points="-3.00,5.40 5.00,5.40 7.40,6.70 12.70,11.70 8.70,14.70 7.70,21.80 -3.65,21.80 -4.60,14.70 -10.00,11.70 -6.40,6.70" fill="#0c4092" stroke="#111" stroke-width="0.6" stroke-linejoin="round"/><polygon points="-4.35,5.70 5.00,5.70 7.70,21.40 -3.65,21.40" fill="#f26a1f" stroke="#111" stroke-width="0.5" stroke-linejoin="round"/><ellipse cx="0" cy="0" rx="4.35" ry="4.35" fill="#000" stroke="#111" stroke-width="0.3"/></g>
<g transform="translate(561.0,503.3)"><polygon points="-8.55,38.70 -3.65,38.70 -7.40,52.00 -10.05,52.00" fill="#0c4092" stroke="#111" stroke-width="0.5" stroke-linejoin="round"/><polygon points="8.35,38.70 12.10,38.70 14.75,52.00 12.45,52.00" fill="#0c4092" stroke="#111" stroke-width="0.5" stroke-linejoin="round"/><ellipse cx="-10.6" cy="54.9" rx="3.9" ry="2.3" fill="#111" stroke="#111" stroke-width="0.5" transform="rotate(-12 -10.6 54.9)"/><ellipse cx="15.2" cy="54.9" rx="3.6" ry="2.3" fill="#111" stroke="#111" stroke-width="0.5" transform="rotate(12 15.2 54.9)"/><polygon points="-8.15,36.20 -3.65,36.20 -3.65,38.90 -8.55,38.90" fill="#f2b088" stroke="#111" stroke-width="0.4" stroke-linejoin="round"/><polygon points="7.35,36.70 12.35,36.70 12.10,39.00 8.35,39.00" fill="#f2b088" stroke="#111" stroke-width="0.4" stroke-linejoin="round"/><polygon points="-4.05,22.70 7.60,22.70 12.10,36.95 4.25,38.10 1.95,31.70 -0.65,38.10 -8.15,36.20" fill="#fff" stroke="#111" stroke-width="0.6" stroke-linejoin="round"/><polygon points="-9.30,12.80 -7.50,14.80 -17.60,27.60 -19.20,26.00" fill="#f2b088" stroke="#111" stroke-width="0.5" stroke-linejoin="round"/><polygon points="12.70,12.80 10.90,14.80 20.30,27.60 21.90,26.00" fill="#f2b088" stroke="#111" stroke-width="0.5" stroke-linejoin="round"/><ellipse cx="-18.5" cy="27.3" rx="1.7" ry="1.9" fill="#f2b088" stroke="#111" stroke-width="0.4"/><ellipse cx="21.2" cy="27.3" rx="1.7" ry="1.9" fill="#f2b088" stroke="#111" stroke-width="0.4"/><polygon points="-3.00,5.40 5.00,5.40 7.40,6.70 12.70,11.70 8.70,14.70 7.70,21.80 -3.65,21.80 -4.60,14.70 -10.00,11.70 -6.40,6.70" fill="#0c4092" stroke="#111" stroke-width="0.6" stroke-linejoin="round"/><polygon points="-4.35,5.70 5.00,5.70 7.70,21.40 -3.65,21.40" fill="#f26a1f" stroke="#111" stroke-width="0.5" stroke-linejoin="round"/><ellipse cx="0" cy="0" rx="4.35" ry="4.35" fill="#000" stroke="#111" stroke-width="0.3"/></g>
<g transform="translate(608.6,503.3)"><polygon points="-8.55,38.70 -3.65,38.70 -7.40,52.00 -10.05,52.00" fill="#0c4092" stroke="#111" stroke-width="0.5" stroke-linejoin="round"/><polygon points="8.35,38.70 12.10,38.70 14.75,52.00 12.45,52.00" fill="#0c4092" stroke="#111" stroke-width="0.5" stroke-linejoin="round"/><ellipse cx="-10.6" cy="54.9" rx="3.9" ry="2.3" fill="#111" stroke="#111" stroke-width="0.5" transform="rotate(-12 -10.6 54.9)"/><ellipse cx="15.2" cy="54.9" rx="3.6" ry="2.3" fill="#111" stroke="#111" stroke-width="0.5" transform="rotate(12 15.2 54.9)"/><polygon points="-8.15,36.20 -3.65,36.20 -3.65,38.90 -8.55,38.90" fill="#f2b088" stroke="#111" stroke-width="0.4" stroke-linejoin="round"/><polygon points="7.35,36.70 12.35,36.70 12.10,39.00 8.35,39.00" fill="#f2b088" stroke="#111" stroke-width="0.4" stroke-linejoin="round"/><polygon points="-4.05,22.70 7.60,22.70 12.10,36.95 4.25,38.10 1.95,31.70 -0.65,38.10 -8.15,36.20" fill="#fff" stroke="#111" stroke-width="0.6" stroke-linejoin="round"/><polygon points="-9.30,12.80 -7.50,14.80 -17.60,27.60 -19.20,26.00" fill="#f2b088" stroke="#111" stroke-width="0.5" stroke-linejoin="round"/><polygon points="12.70,12.80 10.90,14.80 20.30,27.60 21.90,26.00" fill="#f2b088" stroke="#111" stroke-width="0.5" stroke-linejoin="round"/><ellipse cx="-18.5" cy="27.3" rx="1.7" ry="1.9" fill="#f2b088" stroke="#111" stroke-width="0.4"/><ellipse cx="21.2" cy="27.3" rx="1.7" ry="1.9" fill="#f2b088" stroke="#111" stroke-width="0.4"/><polygon points="-3.00,5.40 5.00,5.40 7.40,6.70 12.70,11.70 8.70,14.70 7.70,21.80 -3.65,21.80 -4.60,14.70 -10.00,11.70 -6.40,6.70" fill="#0c4092" stroke="#111" stroke-width="0.6" stroke-linejoin="round"/><polygon points="-4.35,5.70 5.00,5.70 7.70,21.40 -3.65,21.40" fill="#f26a1f" stroke="#111" stroke-width="0.5" stroke-linejoin="round"/><ellipse cx="0" cy="0" rx="4.35" ry="4.35" fill="#000" stroke="#111" stroke-width="0.3"/></g>
<g transform="translate(656.0,503.3)"><polygon points="-8.55,38.70 -3.65,38.70 -7.40,52.00 -10.05,52.00" fill="#0c4092" stroke="#111" stroke-width="0.5" stroke-linejoin="round"/><polygon points="8.35,38.70 12.10,38.70 14.75,52.00 12.45,52.00" fill="#0c4092" stroke="#111" stroke-width="0.5" stroke-linejoin="round"/><ellipse cx="-10.6" cy="54.9" rx="3.9" ry="2.3" fill="#111" stroke="#111" stroke-width="0.5" transform="rotate(-12 -10.6 54.9)"/><ellipse cx="15.2" cy="54.9" rx="3.6" ry="2.3" fill="#111" stroke="#111" stroke-width="0.5" transform="rotate(12 15.2 54.9)"/><polygon points="-8.15,36.20 -3.65,36.20 -3.65,38.90 -8.55,38.90" fill="#f2b088" stroke="#111" stroke-width="0.4" stroke-linejoin="round"/><polygon points="7.35,36.70 12.35,36.70 12.10,39.00 8.35,39.00" fill="#f2b088" stroke="#111" stroke-width="0.4" stroke-linejoin="round"/><polygon points="-4.05,22.70 7.60,22.70 12.10,36.95 4.25,38.10 1.95,31.70 -0.65,38.10 -8.15,36.20" fill="#fff" stroke="#111" stroke-width="0.6" stroke-linejoin="round"/><polygon points="-9.30,12.80 -7.50,14.80 -17.60,27.60 -19.20,26.00" fill="#f2b088" stroke="#111" stroke-width="0.5" stroke-linejoin="round"/><polygon points="12.70,12.80 10.90,14.80 20.30,27.60 21.90,26.00" fill="#f2b088" stroke="#111" stroke-width="0.5" stroke-linejoin="round"/><ellipse cx="-18.5" cy="27.3" rx="1.7" ry="1.9" fill="#f2b088" stroke="#111" stroke-width="0.4"/><ellipse cx="21.2" cy="27.3" rx="1.7" ry="1.9" fill="#f2b088" stroke="#111" stroke-width="0.4"/><polygon points="-3.00,5.40 5.00,5.40 7.40,6.70 12.70,11.70 8.70,14.70 7.70,21.80 -3.65,21.80 -4.60,14.70 -10.00,11.70 -6.40,6.70" fill="#0c4092" stroke="#111" stroke-width="0.6" stroke-linejoin="round"/><polygon points="-4.35,5.70 5.00,5.70 7.70,21.40 -3.65,21.40" fill="#f26a1f" stroke="#111" stroke-width="0.5" stroke-linejoin="round"/><ellipse cx="0" cy="0" rx="4.35" ry="4.35" fill="#000" stroke="#111" stroke-width="0.3"/></g>
<g transform="translate(739.75,241.35)"><polygon points="-6.25,38.65 -2.25,38.65 -2.25,52.65 -6.25,52.65" fill="#fff" stroke="#111" stroke-width="0.5" stroke-linejoin="round"/><polygon points="3.25,38.65 7.25,38.65 7.25,51.65 3.25,51.65" fill="#fff" stroke="#111" stroke-width="0.5" stroke-linejoin="round"/><ellipse cx="5.25" cy="50.2" rx="3.2" ry="3.0" fill="#fff" stroke="#111" stroke-width="0.6"/><ellipse cx="5.25" cy="51.5" rx="1.5" ry="1.2" fill="#222" stroke="#111" stroke-width="0.2"/><ellipse cx="-4.25" cy="54.65" rx="3.0" ry="2.3" fill="#111" stroke="#111" stroke-width="0.5"/><ellipse cx="5.25" cy="53.6" rx="3.2" ry="2.3" fill="#111" stroke="#111" stroke-width="0.5"/><polygon points="-5.80,23.00 6.50,23.00 7.25,36.95 -6.75,36.95" fill="#000" stroke="#111" stroke-width="0.6" stroke-linejoin="round"/><polygon points="-9.95,15.05 -7.15,17.15 -12.50,25.50 -14.50,24.00" fill="#f2b088" stroke="#111" stroke-width="0.5" stroke-linejoin="round"/><polygon points="10.65,15.05 8.25,17.15 13.50,24.50 15.50,23.20" fill="#f2b088" stroke="#111" stroke-width="0.5" stroke-linejoin="round"/><ellipse cx="-14.85" cy="26.95" rx="2.5" ry="3.8" fill="#fff" stroke="#111" stroke-width="0.5" transform="rotate(30 -14.85 26.95)"/><ellipse cx="17.65" cy="26.25" rx="3.5" ry="2.6" fill="#fff" stroke="#111" stroke-width="0.5" transform="rotate(30 17.65 26.25)"/><polygon points="-3.65,5.95 3.35,5.95 7.55,8.05 10.65,15.05 8.25,17.15 5.45,17.15 5.45,23.45 -4.75,23.45 -4.75,17.15 -7.15,17.15 -9.95,15.05 -7.15,8.05" fill="#8c2270" stroke="#111" stroke-width="0.6" stroke-linejoin="round"/><polygon points="-1.80,3.50 2.80,3.50 2.80,6.20 -1.80,6.20" fill="#f2b088" stroke="#111" stroke-width="0.4" stroke-linejoin="round"/><ellipse cx="0" cy="0" rx="4.35" ry="4.55" fill="#000" stroke="#111" stroke-width="0.3"/><ellipse cx="-3.2" cy="1.8" rx="1.3" ry="2.0" fill="#f2b088" stroke="#111" stroke-width="0.3"/></g>
<g transform="translate(75.3,245.5)"><ellipse cx="-9.8" cy="53.7" rx="3.5" ry="2.0" fill="#111" stroke="#111" stroke-width="0.5" transform="rotate(20 -9.8 53.7)"/><ellipse cx="-0.3" cy="55.7" rx="4.2" ry="2.2" fill="#111" stroke="#111" stroke-width="0.5" transform="rotate(15 -0.3 55.7)"/><polygon points="-8.00,40.80 -4.30,40.80 -8.60,52.20 -11.30,52.20" fill="#fff" stroke="#111" stroke-width="0.5" stroke-linejoin="round"/><polygon points="-2.30,42.20 1.70,42.20 0.00,54.20 -3.30,54.20" fill="#fff" stroke="#111" stroke-width="0.5" stroke-linejoin="round"/><polygon points="-8.60,38.00 -4.30,38.00 -4.30,41.00 -8.00,41.00" fill="#f2b088" stroke="#111" stroke-width="0.4" stroke-linejoin="round"/><polygon points="-2.30,38.00 2.70,38.00 1.70,42.20 -2.30,42.20" fill="#f2b088" stroke="#111" stroke-width="0.4" stroke-linejoin="round"/><polygon points="-9.30,22.20 0.00,22.20 2.70,38.20 -8.60,38.20 -10.00,26.20" fill="#000" stroke="#111" stroke-width="0.6" stroke-linejoin="round"/><polygon points="-5.30,5.80 0.60,6.70 1.50,12.90 0.60,22.10 -8.70,21.50 -7.40,9.20" fill="#f07028" stroke="#111" stroke-width="0.6" stroke-linejoin="round"/><polygon points="-5.80,12.50 -3.50,13.00 -3.00,17.00 3.00,19.00 3.00,21.00 -2.00,20.50 -5.50,18.00" fill="#f2b088" stroke="#111" stroke-width="0.5" stroke-linejoin="round"/><ellipse cx="6.2" cy="17.2" rx="3.8" ry="2.5" fill="#fff" stroke="#111" stroke-width="0.5" transform="rotate(10 6.2 17.2)"/><ellipse cx="4.9" cy="22.4" rx="3.8" ry="2.5" fill="#fff" stroke="#111" stroke-width="0.5" transform="rotate(10 4.9 22.4)"/><polygon points="-2.00,3.50 1.70,3.50 1.70,7.00 -2.00,7.00" fill="#f2b088" stroke="#111" stroke-width="0.4" stroke-linejoin="round"/><ellipse cx="0.9" cy="1.2" rx="3.4" ry="4.3" fill="#f2b088" stroke="#111" stroke-width="0.4"/><path d="M-4.3,2.5 Q-5,-4.5 0,-4.7 Q4,-4.7 3.8,-1.5 L1.5,-2 Q0,1 -1,4 Z" fill="#000"/></g>
<g transform="translate(166.1,353)"><polygon points="-13.85,39.90 -10.00,41.30 -14.90,50.70 -17.70,50.00" fill="#0c4092" stroke="#111" stroke-width="0.5" stroke-linejoin="round"/><ellipse cx="-18.4" cy="53" rx="4" ry="2.3" fill="#111" stroke="#111" stroke-width="0.5" transform="rotate(-25 -18.4 53)"/><polygon points="0.90,38.10 0.90,40.90 -6.50,42.00 -6.50,39.20" fill="#0c4092" stroke="#111" stroke-width="0.5" stroke-linejoin="round"/><ellipse cx="-7.9" cy="44.4" rx="2.5" ry="4.0" fill="#111" stroke="#111" stroke-width="0.5" transform="rotate(20 -7.9 44.4)"/><polygon points="-12.10,35.70 -8.20,36.00 -9.50,41.00 -13.50,40.00" fill="#f2b088" stroke="#111" stroke-width="0.4" stroke-linejoin="round"/><polygon points="0.50,35.30 5.80,35.30 5.00,38.80 0.90,40.50" fill="#f2b088" stroke="#111" stroke-width="0.4" stroke-linejoin="round"/><polygon points="-7.50,21.00 3.30,21.00 6.10,34.30 -1.20,35.30 -2.30,31.10 -7.20,36.70 -12.40,35.00" fill="#fff" stroke="#111" stroke-width="0.6" stroke-linejoin="round"/><polygon points="5.00,13.30 7.60,12.50 10.50,21.00 9.50,24.00 7.50,22.50" fill="#f2b088" stroke="#111" stroke-width="0.5" stroke-linejoin="round"/><polygon points="-7.90,6.90 -3.50,4.60 2.90,4.60 6.70,5.75 7.60,12.20 4.65,13.30 3.20,20.30 -5.85,17.40 -10.20,15.10 -9.90,11.60" fill="#0c4092" stroke="#111" stroke-width="0.6" stroke-linejoin="round"/><polygon points="-3.80,4.90 -1.50,8.70 2.90,4.60 4.40,11.00 3.20,20.30 -6.10,16.50" fill="#fbcc14" stroke="#111" stroke-width="0.5" stroke-linejoin="round"/><polygon points="-10.20,15.00 -8.00,15.50 -7.50,17.00 0.00,18.00 3.00,19.50 2.00,21.50 -5.00,21.00 -10.00,19.00 -11.00,17.00" fill="#f2b088" stroke="#111" stroke-width="0.5" stroke-linejoin="round"/><polygon points="-2.00,3.00 2.00,3.00 1.50,6.00 -1.50,6.00" fill="#f2b088" stroke="#111" stroke-width="0.3" stroke-linejoin="round"/><ellipse cx="0" cy="1.2" rx="3.4" ry="4.3" fill="#f2b088" stroke="#111" stroke-width="0.4"/><path d="M-4,1 Q-4.2,-5 0,-5 Q4.2,-5 4,1 L3.3,-1.5 Q0,-2.5 -3.3,-1.5 Z" fill="#000"/></g>
<g transform="translate(404.5,204)"><polygon points="-11.00,39.00 -8.50,43.50 -19.90,47.90 -20.80,45.30" fill="#0c4092" stroke="#111" stroke-width="0.5" stroke-linejoin="round"/><ellipse cx="-22" cy="49.6" rx="2.8" ry="4.6" fill="#111" stroke="#111" stroke-width="0.5" transform="rotate(15 -22 49.6)"/><polygon points="-11.60,38.40 -6.90,38.80 -7.80,42.20 -11.00,42.00" fill="#f2b088" stroke="#111" stroke-width="0.4" stroke-linejoin="round"/><polygon points="5.20,40.30 9.30,40.30 9.60,52.30 6.70,52.30" fill="#0c4092" stroke="#111" stroke-width="0.5" stroke-linejoin="round"/><ellipse cx="10.8" cy="53.5" rx="4.5" ry="2.4" fill="#111" stroke="#111" stroke-width="0.5" transform="rotate(10 10.8 53.5)"/><polygon points="3.90,34.00 8.50,33.30 9.30,40.30 5.20,40.60" fill="#f2b088" stroke="#111" stroke-width="0.4" stroke-linejoin="round"/><polygon points="-8.10,23.80 1.40,24.40 7.10,32.00 2.60,38.40 -1.80,35.20 -6.90,40.60 -11.60,38.00 -8.50,30.80" fill="#fff" stroke="#111" stroke-width="0.6" stroke-linejoin="round"/><polygon points="-10.70,7.50 -14.50,9.50 -16.00,14.00 -17.00,18.00 -20.00,19.50 -18.50,21.00 -15.00,19.50 -13.00,14.00 -10.40,12.40" fill="#f2b088" stroke="#111" stroke-width="0.5" stroke-linejoin="round"/><polygon points="-10.70,7.30 -3.50,5.50 2.20,6.40 4.30,7.60 7.30,14.80 4.30,16.90 1.90,23.50 -7.70,22.60 -7.10,12.70 -10.40,12.40" fill="#0c4092" stroke="#111" stroke-width="0.6" stroke-linejoin="round"/><polygon points="-3.50,5.80 -0.20,9.10 2.20,6.40 2.50,16.00 1.90,23.50 -7.70,22.60 -7.10,12.70 -5.30,9.40" fill="#fbcc14" stroke="#111" stroke-width="0.5" stroke-linejoin="round"/><polygon points="5.50,15.50 18.00,15.80 20.50,17.50 18.00,19.20 5.00,19.00" fill="#f2b088" stroke="#111" stroke-width="0.5" stroke-linejoin="round"/><polygon points="-1.50,4.00 2.50,4.00 2.50,9.00 -1.50,9.00" fill="#f2b088" stroke="#111" stroke-width="0.3" stroke-linejoin="round"/><ellipse cx="1.8" cy="2" rx="3" ry="4.2" fill="#f2b088" stroke="#111" stroke-width="0.4"/><path d="M-4.3,2.5 Q-4.5,-4.5 0,-4.5 Q4.5,-4.5 4.2,-1 L2,-1.5 Q0.5,1.5 -0.8,4.5 Z" fill="#000"/></g>
</svg>
</body></html>
